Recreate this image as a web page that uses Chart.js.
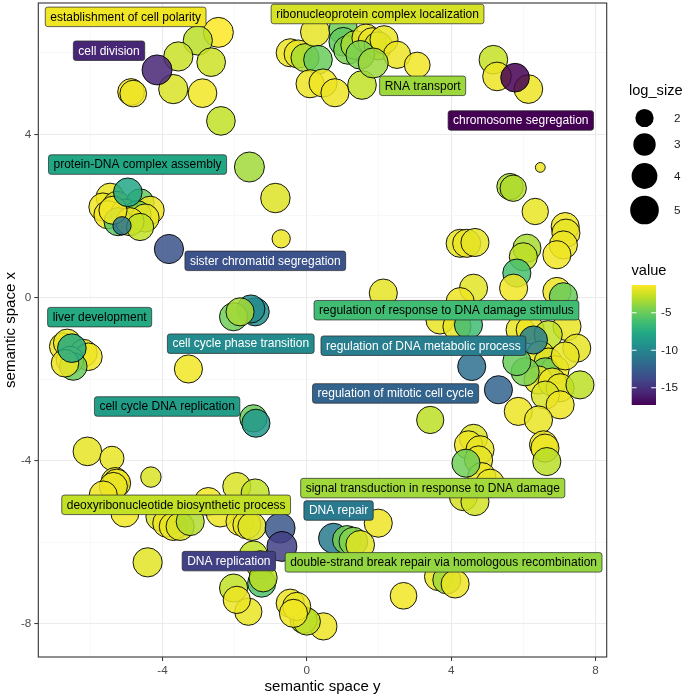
<!DOCTYPE html>
<html><head><meta charset="utf-8">
<script src="https://cdn.jsdelivr.net/npm/chart.js@4.4.0/dist/chart.umd.min.js"></script>
<style>html,body{margin:0;padding:0;background:#fff;}canvas{display:block}</style>
</head><body>
<canvas id="c" width="688" height="696" style="width:688px;height:696px"></canvas>
<script>
// ---------------- DATA ----------------
// semantic space y (horizontal), semantic space x (vertical), value (colour), log_size (size)
const semY = [
 -2.45,-3.02,-3.56,-2.65,-3.70,-2.89,-4.87,-4.81,-2.38,-1.59,-0.87,-4.15,
 -3.82,-0.71,
 -5.45,-5.65,-5.26,-4.62,-4.34,-5.51,-5.04,-4.70,-4.48,-5.23,-4.90,-4.62,-5.37,-5.12,-4.96,
 -0.46,-0.24,-0.05,0.23,0.31,0.09,0.45,0.78,1.01,1.01,1.14,1.34,1.64,1.81,1.98,2.14,1.53,2.50,3.06,1.48,1.84,
 5.17,5.27,6.14,5.77,
 6.47,5.63,5.72,6.33,7.16,7.18,7.11,6.93,6.10,6.00,5.82,5.73,4.25,4.43,4.66,2.12,4.62,4.25,3.69,4.16,4.48,
 6.93,7.11,7.21,7.48,5.91,6.19,6.69,6.47,6.69,6.88,6.61,6.41,6.80,7.02,6.61,7.02,6.05,7.16,5.82,6.28,4.57,5.31,
 7.57,5.86,6.42,3.42,4.62,6.56,
 4.48,4.80,4.76,4.85,5.08,4.34,4.66,4.41,6.60,6.65,
 1.98,0.74,1.11,1.29,1.48,
 3.65,3.88,4.11,2.68,0.46,-0.09,0.00,
 -6.08,-5.40,-5.31,-5.27,-5.36,-4.32,-5.64,-5.04,-4.07,-3.88,-3.70,-3.51,-3.23,-2.73,-2.40,-1.94,-1.43,
 -1.85,-1.66,-1.52,-4.41,-1.48,-1.29,-2.03,-1.25,-1.21,-1.62,-1.94,-0.46,-0.28,-0.37,-0.74,-0.69,
 -6.75,-6.64,-6.19,-6.05,-6.56,-6.47,-6.70,-6.51,
 -1.43,-1.55,-2.03,-1.85,-3.28,-1.48,-1.41
];
const semX = [
 6.50,6.30,5.91,5.77,5.11,5.01,5.04,5.00,4.33,3.20,2.44,5.58,
 1.19,1.44,
 2.46,2.22,2.26,2.32,2.14,2.03,2.07,2.03,1.95,1.86,1.86,1.73,2.14,1.76,2.58,
 6.00,5.97,5.88,6.51,5.83,5.24,5.26,5.02,6.56,6.27,6.07,6.19,6.36,6.27,6.17,6.32,5.21,5.95,5.70,5.95,5.75,
 5.83,5.42,5.11,5.39,
 3.19,2.72,2.68,2.11,1.74,1.58,1.29,1.05,1.21,1.00,0.60,0.23,1.33,1.33,1.35,0.11,0.23,-0.10,-0.55,-0.71,-0.67,
 0.15,0.02,-0.71,-1.24,-0.79,-0.79,-0.91,-1.41,-1.58,-1.77,-1.82,-2.02,-2.07,-2.21,-2.39,-2.63,-1.82,-1.43,-1.57,-1.04,-1.69,-2.26,
 -2.14,-2.79,-3.00,-3.00,-3.45,-3.61,
 -3.61,-3.73,-3.98,-4.39,-4.55,-4.88,-5.00,-4.06,-3.69,-4.02,
 -5.53,-5.90,-5.94,-5.98,-6.06,
 -6.84,-6.92,-7.02,-7.31,-8.06,-7.90,-7.94,
 -3.77,-3.94,-4.51,-4.55,-4.63,-4.40,-4.84,-5.28,-5.37,-5.53,-5.61,-5.61,-5.49,-5.00,-5.28,-4.63,-4.79,
 -5.49,-5.57,-5.61,-6.49,-6.31,-6.55,-7.12,-7.00,-6.87,-7.70,-7.41,-7.49,-7.57,-7.74,-5.65,-6.10,
 -1.20,-1.11,-1.36,-1.45,-1.53,-1.69,-1.61,-1.24,
 -0.35,-0.28,-0.47,-0.35,-1.75,-2.96,-3.08
];
const values = [
 -1.3,-3.0,-2.6,-2.5,-2.2,-1.6,-1.6,-1.7,-2.8,-3.6,-2.1,-15.6,
 -13.3,-1.7,
 -1.8,-1.6,-2.2,-5.0,-1.7,-1.6,-1.9,-4.5,-1.8,-5.5,-1.7,-2.8,-1.6,-11.0,-7.8,
 -1.7,-1.8,-3.4,-1.9,-5.0,-1.7,-1.6,-1.7,-4.8,-5.2,-4.5,-3.5,-1.8,-1.7,-2.6,-1.8,-2.8,-1.7,-1.6,-4.5,-3.7,
 -2.7,-1.7,-1.7,-17.3,
 -1.7,-3.4,-3.2,-1.8,-1.7,-1.8,-1.7,-1.6,-3.4,-2.9,-6.0,-1.6,-1.8,-1.7,-1.9,-1.9,-2.0,-1.7,-1.8,-1.8,-6.3,
 -1.7,-5.0,-1.8,-1.9,-1.8,-1.7,-2.8,-1.8,-2.2,-1.7,-5.0,-1.8,-1.7,-1.9,-2.2,-1.7,-4.5,-1.8,-5.0,-10.5,-11.5,-12.2,
 -2.9,-1.7,-1.8,-2.9,-2.2,-1.7,
 -1.7,-1.8,-1.9,-1.7,-1.8,-2.3,-2.4,-4.8,-1.7,-3.0,
 -1.7,-10.8,-4.7,-4.3,-2.0,
 -1.8,-3.6,-1.7,-1.6,-1.7,-3.4,-2.8,
 -1.9,-1.8,-1.7,-1.6,-1.8,-2.2,-1.7,-1.6,-2.2,-1.7,-1.8,-2.1,-3.2,-1.6,-1.7,-2.2,-2.8,
 -1.7,-1.8,-2.1,-2.0,-2.8,-2.9,-2.8,-5.8,-2.9,-1.8,-1.7,-1.7,-1.8,-1.6,-13.0,-14.3,
 -1.7,-1.8,-1.7,-1.6,-1.8,-5.0,-1.7,-7.6,
 -9.5,-9.7,-4.8,-3.5,-1.6,-5.0,-8.8
];
const logSize = [
 5.5,5.2,5.2,5.0,5.2,5.0,4.3,4.3,5.0,5.5,5.3,5.5,
 5.2,2.0,
 4.8,4.8,4.8,4.8,4.8,4.8,4.8,4.8,4.8,4.8,4.8,4.5,4.8,2.0,5.0,
 4.8,4.8,4.8,5.2,5.0,4.8,4.8,4.8,5.0,5.0,5.0,5.0,4.8,4.8,4.8,4.8,5.0,4.5,4.0,5.0,5.5,
 5.0,5.0,5.0,5.0,
 0.75,4.2,4.2,4.2,4.8,4.8,4.8,4.8,4.8,4.8,4.8,4.8,4.8,4.8,4.8,4.8,4.8,4.8,4.8,4.8,4.8,
 4.8,4.8,4.8,4.8,4.8,4.8,4.8,4.8,4.8,4.8,4.8,4.8,4.8,4.8,4.8,4.8,4.8,4.8,4.8,4.8,4.8,4.8,
 4.8,4.8,4.8,4.5,4.8,4.8,
 4.8,4.8,4.8,4.8,4.8,4.8,4.8,4.8,4.8,4.8,
 4.8,5.5,5.0,5.0,5.0,
 4.8,4.8,4.8,4.3,4.5,4.5,4.5,
 5.0,3.5,4.8,4.8,4.8,2.5,4.8,4.8,4.8,4.8,4.8,4.8,4.8,4.8,4.8,4.8,4.8,
 4.8,4.8,4.8,5.2,4.8,4.8,4.8,4.8,4.8,4.5,4.5,4.8,4.8,4.8,5.5,5.5,
 4.6,4.6,4.6,4.6,4.6,4.6,4.6,5.0,
 4.8,4.8,4.8,4.8,4.8,4.5,4.8
];

// labelled terms
const labelTerms = [
 "establishment of cell polarity","ribonucleoprotein complex localization","cell division","RNA transport",
 "chromosome segregation","protein-DNA complex assembly","sister chromatid segregation","liver development",
 "regulation of response to DNA damage stimulus","cell cycle phase transition","regulation of DNA metabolic process",
 "regulation of mitotic cell cycle","cell cycle DNA replication","deoxyribonucleotide biosynthetic process",
 "signal transduction in response to DNA damage","DNA repair","DNA replication",
 "double-strand break repair via homologous recombination"
];
const labelValues = [-1.6,-2.3,-15.6,-3.7,-17.3,-7.8,-13.3,-7.6,-6.3,-9.7,-10.5,-12.2,-8.4,-2.8,-3.6,-10.8,-14.3,-3.9];
const labelSemY  = [-5.02,1.96,-5.48,3.21,5.93,-4.69,-1.15,-5.74,3.87,-1.83,3.23,2.46,-3.87,-3.62,3.49,0.88,-2.16,3.79];
const labelSemX  = [6.88,6.95,6.05,5.19,4.34,3.26,0.90,-0.48,-0.31,-1.13,-1.18,-2.35,-2.67,-5.08,-4.67,-5.22,-6.46,-6.49];

// axes / legends
const xGridValues = [-6,-4,-2,0,2,4,6,8];
const yGridValues = [-8,-6,-4,-2,0,2,4,6];
const xTickLabels = [-4,0,4,8];
const yTickLabels = [-8,-4,0,4];
const sizeBreaks = [2,3,4,5];
const valueBreaks = [-5,-10,-15];
const xTitle = "semantic space y";
const yTitle = "semantic space x";
const sizeTitle = "log_size";
const colorTitle = "value";

// ---------------- HELPERS ----------------
const FONT = "'Liberation Sans', Arial, Helvetica, sans-serif";
const VIR = ["#440154","#482475","#414487","#355f8d","#2a788e","#21918c","#22a884","#44bf70","#7ad151","#bddf26","#fde725"];
function hex2rgb(h){return [parseInt(h.slice(1,3),16),parseInt(h.slice(3,5),16),parseInt(h.slice(5,7),16)];}
function viridis(t){
  t=Math.max(0,Math.min(1,t)); const p=t*(VIR.length-1); const i=Math.min(VIR.length-2,Math.floor(p)); const f=p-i;
  const a=hex2rgb(VIR[i]), b=hex2rgb(VIR[i+1]);
  return [0,1,2].map(k=>Math.round(a[k]+(b[k]-a[k])*f));
}
const vMin = Math.min(...values), vMax = Math.max(...values);
function valueRGB(v){ return viridis((v-vMin)/(vMax-vMin)); }
function rgbStr(c,a){ return a===undefined?`rgb(${c[0]},${c[1]},${c[2]})`:`rgba(${c[0]},${c[1]},${c[2]},${a})`; }
function sizeToRadius(ls){ const d = 4 + 26*Math.sqrt(Math.max(0,(ls-0.5)/5)); return d/2; }

const points = semY.map((x,i)=>({x:x, y:semX[i], r:sizeToRadius(logSize[i])}));

function roundRect(ctx,x,y,w,h,r){
  ctx.beginPath(); ctx.moveTo(x+r,y); ctx.lineTo(x+w-r,y); ctx.quadraticCurveTo(x+w,y,x+w,y+r);
  ctx.lineTo(x+w,y+h-r); ctx.quadraticCurveTo(x+w,y+h,x+w-r,y+h); ctx.lineTo(x+r,y+h);
  ctx.quadraticCurveTo(x,y+h,x,y+h-r); ctx.lineTo(x,y+r); ctx.quadraticCurveTo(x,y,x+r,y); ctx.closePath();
}

const overlay = {
  id:'overlay',
  afterDatasetsDraw(chart){
    const ctx=chart.ctx, xs=chart.scales.x, ys=chart.scales.y, a=chart.chartArea;
    ctx.save();
    ctx.beginPath(); ctx.rect(a.left,a.top,a.right-a.left,a.bottom-a.top); ctx.clip();
    ctx.font = `12px ${FONT}`; ctx.textBaseline='middle'; ctx.textAlign='center';
    labelTerms.forEach((t,i)=>{
      const cx=xs.getPixelForValue(labelSemY[i]), cy=ys.getPixelForValue(labelSemX[i]);
      const w=ctx.measureText(t).width+10, h=19.5;
      roundRect(ctx,cx-w/2,cy-h/2,w,h,2.5);
      ctx.fillStyle=rgbStr(valueRGB(labelValues[i])); ctx.fill();
      ctx.lineWidth=0.8; ctx.strokeStyle='rgba(40,40,40,0.9)'; ctx.stroke();
      ctx.fillStyle = labelValues[i] < -9.2 ? '#ffffff' : '#000000';
      ctx.fillText(t,cx,cy+0.5);
    });
    ctx.restore();
    // panel border
    ctx.save(); ctx.strokeStyle='#333333'; ctx.lineWidth=1.1;
    ctx.strokeRect(a.left,a.top,a.right-a.left,a.bottom-a.top); ctx.restore();
  },
  afterDraw(chart){
    const ctx=chart.ctx, a=chart.chartArea;
    ctx.save();
    ctx.fillStyle='#000'; ctx.font=`15px ${FONT}`; ctx.textAlign='center'; ctx.textBaseline='middle';
    ctx.fillText(xTitle,(a.left+a.right)/2,687);
    ctx.save(); ctx.translate(11,(a.top+a.bottom)/2); ctx.rotate(-Math.PI/2); ctx.fillText(yTitle,0,0); ctx.restore();
    // size legend
    ctx.font=`14.6px ${FONT}`;
    ctx.textAlign='left';
    ctx.fillText(sizeTitle,629,91);
    const keyY=[118,144.5,176,210];
    ctx.font=`11.7px ${FONT}`; ctx.fillStyle='#1a1a1a';
    sizeBreaks.forEach((b,i)=>{
      ctx.beginPath(); ctx.arc(644.5,keyY[i],sizeToRadius(b),0,Math.PI*2); ctx.fillStyle='#000'; ctx.fill();
      ctx.fillStyle='#1a1a1a'; ctx.fillText(String(b),674,keyY[i]+0.5);
    });
    // colour bar
    ctx.font=`14.6px ${FONT}`; ctx.fillStyle='#000'; ctx.fillText(colorTitle,631.5,271);
    const bx=631.7,bw=24.3,bt=285,bb=405;
    for(let y=bt;y<bb;y++){
      const v=vMax-(y+0.5-bt)/(bb-bt)*(vMax-vMin);
      ctx.fillStyle=rgbStr(valueRGB(v)); ctx.fillRect(bx,y,bw,1);
    }
    ctx.font=`11.7px ${FONT}`;
    valueBreaks.forEach(v=>{
      const y=bt+(vMax-v)/(vMax-vMin)*(bb-bt);
      ctx.strokeStyle='#ffffff'; ctx.lineWidth=1;
      ctx.beginPath(); ctx.moveTo(bx,y); ctx.lineTo(bx+4.8,y); ctx.moveTo(bx+bw-4.8,y); ctx.lineTo(bx+bw,y); ctx.stroke();
      ctx.fillStyle='#1a1a1a'; ctx.fillText(String(v),661,y+0.5);
    });
    ctx.restore();
  }
};

function gridOpts(majors){
  return {
    color: c => majors.includes(c.tick && c.tick.value) ? '#ebebeb' : '#f4f4f4',
    lineWidth: c => majors.includes(c.tick && c.tick.value) ? 1.1 : 0.6,
    tickLength: 4,
    tickColor: c => majors.includes(c.tick && c.tick.value) ? '#333333' : 'rgba(0,0,0,0)',
    tickWidth: 1
  };
}
function noPad(s){ s.paddingTop=0; s.paddingBottom=0; s.paddingLeft=0; s.paddingRight=0; }

new Chart(document.getElementById('c'), {
  type:'bubble',
  data:{datasets:[{
    data: points,
    backgroundColor: values.map(v=>rgbStr(valueRGB(v),0.85)),
    borderColor:'#000000', borderWidth:0.9
  }]},
  options:{
    responsive:false, animation:false, devicePixelRatio:1, events:[],
    layout:{autoPadding:false, padding:{left:0,right:81.3,top:3,bottom:0}},
    plugins:{legend:{display:false},tooltip:{enabled:false}},
    scales:{
      x:{type:'linear',min:-7.44,max:8.31,
        afterBuildTicks:s=>{s.ticks=xGridValues.map(v=>({value:v}));},
        afterFit:s=>{s.height=39; noPad(s);},
        ticks:{autoSkip:false,maxRotation:0,padding:3,color:'#4d4d4d',font:{family:FONT,size:11.7},
          callback:v=>xTickLabels.includes(v)?String(v):''},
        grid:gridOpts(xTickLabels), border:{display:false}},
      y:{type:'linear',min:-8.81,max:7.22,
        afterBuildTicks:s=>{s.ticks=yGridValues.map(v=>({value:v}));},
        afterFit:s=>{s.width=38.3; noPad(s);},
        ticks:{autoSkip:false,padding:3,color:'#4d4d4d',font:{family:FONT,size:11.7},
          callback:v=>yTickLabels.includes(v)?String(v):''},
        grid:gridOpts(yTickLabels), border:{display:false}}
    }
  },
  plugins:[overlay]
});
</script>
</body></html>
